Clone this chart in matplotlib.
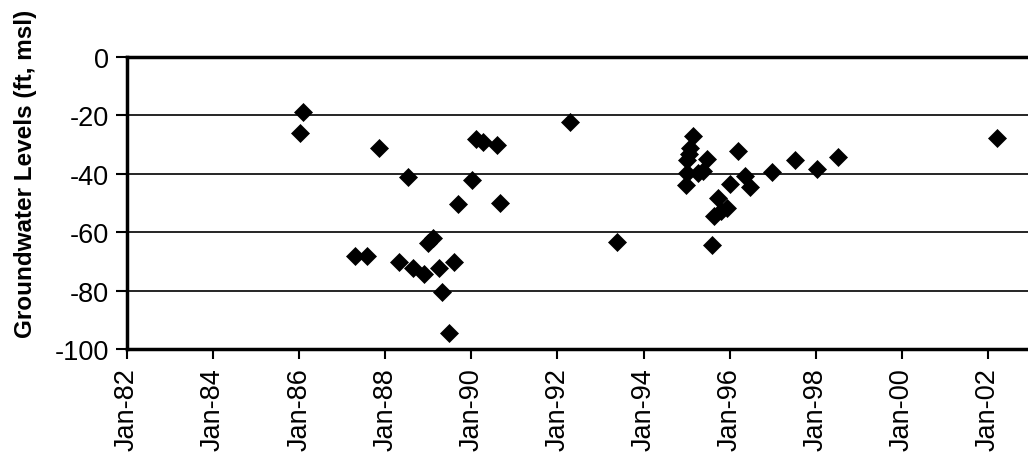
import matplotlib
matplotlib.use("Agg")
import matplotlib.pyplot as plt
import matplotlib.dates as mdates
from datetime import datetime, timedelta

plt.rcParams['font.family'] = ['Liberation Sans', 'DejaVu Sans']
plt.rcParams['axes.unicode_minus'] = False

# sample dates (decimal years) and groundwater levels (ft, msl)
years = [1986.10, 1986.02, 1987.86, 1988.53, 1990.02, 1990.11, 1990.28, 1990.60,
         1989.69, 1990.67, 1988.99, 1989.11, 1987.30, 1987.57, 1988.33, 1988.65,
         1988.91, 1989.24, 1989.59, 1989.32, 1989.49,
         1992.29, 1993.38, 1995.58, 1995.15, 1995.09, 1995.06, 1995.02, 1995.00,
         1994.98, 1995.47, 1995.37, 1995.27, 1996.19, 1996.01, 1996.36, 1996.47,
         1995.74, 1995.93, 1995.64, 1995.81, 1996.99, 1997.51, 1998.02, 1998.52,
         2002.20]
levels = [-19.1, -26.0, -31.2, -41.1, -42.3, -28.2, -29.3, -30.4,
          -50.3, -50.2, -63.7, -62.0, -68.3, -68.3, -70.1, -72.3,
          -74.3, -72.2, -70.2, -80.4, -94.5,
          -22.5, -63.4, -64.4, -27.1, -31.3, -33.2, -35.3, -39.9,
          -43.8, -35.2, -39.2, -39.8, -32.4, -43.6, -40.9, -44.7,
          -48.4, -51.8, -54.6, -52.9, -39.5, -35.4, -38.6, -34.5,
          -27.7]
yticks = [0, -20, -40, -60, -80, -100]


def to_date(y):
    return datetime(int(y), 1, 1) + timedelta(days=(y % 1) * 365.25)


dates = [to_date(y) for y in years]

fig = plt.figure(figsize=(10.28, 4.6), dpi=100)
ax = fig.add_axes([0.1235, 0.239, 0.8765, 0.636])

ax.plot(dates, levels, linestyle='none', marker='D', markersize=9.5,
        color='black', markeredgewidth=0.5, zorder=3)

for v in yticks[1:-1]:
    ax.axhline(v, color='black', linewidth=1.2, zorder=1)

ax.set_ylim(-100, 0)
ax.set_yticks(yticks)
ax.set_xlim(datetime(1982, 1, 1), to_date(2002.93))
ax.xaxis.set_major_locator(mdates.YearLocator(2, month=1, day=1))
ax.xaxis.set_major_formatter(mdates.DateFormatter('%b-%y'))

for side in ['left', 'top', 'bottom']:
    ax.spines[side].set_linewidth(2.5)
ax.spines['right'].set_visible(False)

ax.tick_params(axis='y', direction='out', length=8, width=1.5, pad=5, labelsize=19.5)
ax.tick_params(axis='x', direction='out', length=7, width=1.5, pad=6, labelsize=19.5,
               labelrotation=90)

fig.text(0.025, 0.622, 'Groundwater Levels (ft, msl)', rotation=90, ha='center',
         va='center', fontsize=17.5, fontweight='bold')

fig.savefig('out.png', dpi=100)
